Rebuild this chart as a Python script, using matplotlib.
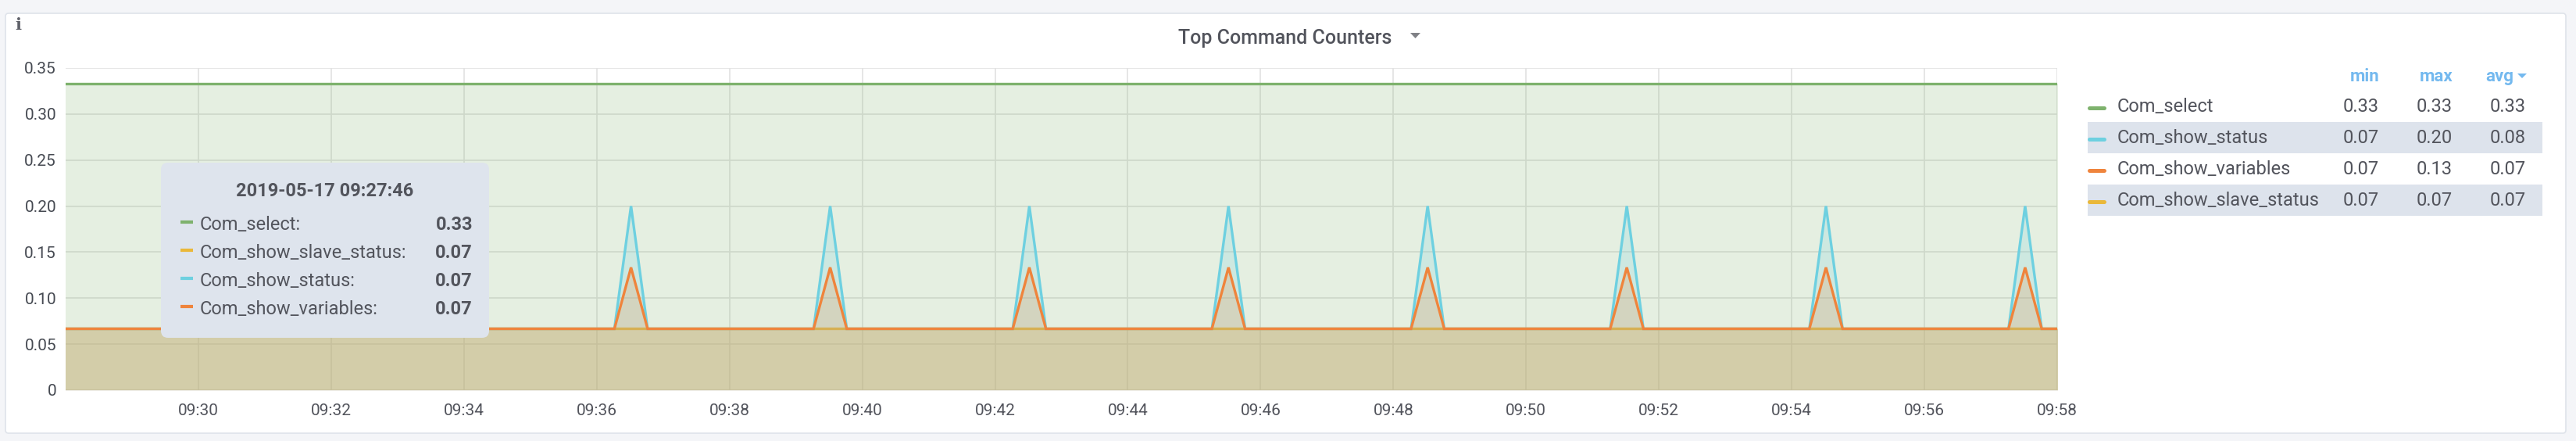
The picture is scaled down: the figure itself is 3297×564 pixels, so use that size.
#!/usr/bin/env python3
"""Grafana-style 'Top Command Counters' panel redrawn with matplotlib."""

import matplotlib
matplotlib.use("Agg")
import matplotlib.dates as mdates
import matplotlib.pyplot as plt
import pandas as pd
from matplotlib.patches import FancyBboxPatch, Polygon, Rectangle

W, H = 3298, 564
DAY = "2019-05-17"

# ---- data ------------------------------------------------------------------
FLAT_TIMES = ["09:27:46", "09:58:01"]
SELECT_VALUES = [0.3333, 0.3333]
SLAVE_STATUS_VALUES = [0.0667, 0.0667]

SPIKE_TIMES = [
    "09:27:46",
    "09:36:16", "09:36:31", "09:36:46",
    "09:39:16", "09:39:31", "09:39:46",
    "09:42:16", "09:42:31", "09:42:46",
    "09:45:16", "09:45:31", "09:45:46",
    "09:48:16", "09:48:31", "09:48:46",
    "09:51:16", "09:51:31", "09:51:46",
    "09:54:16", "09:54:31", "09:54:46",
    "09:57:16", "09:57:31", "09:57:46",
    "09:58:01",
]
SHOW_STATUS_VALUES = [
    0.0667,
    0.0667, 0.2000, 0.0667,
    0.0667, 0.2000, 0.0667,
    0.0667, 0.2000, 0.0667,
    0.0667, 0.2000, 0.0667,
    0.0667, 0.2000, 0.0667,
    0.0667, 0.2000, 0.0667,
    0.0667, 0.2000, 0.0667,
    0.0667, 0.2000, 0.0667,
    0.0667,
]
SHOW_VARIABLES_VALUES = [
    0.0667,
    0.0667, 0.1333, 0.0667,
    0.0667, 0.1333, 0.0667,
    0.0667, 0.1333, 0.0667,
    0.0667, 0.1333, 0.0667,
    0.0667, 0.1333, 0.0667,
    0.0667, 0.1333, 0.0667,
    0.0667, 0.1333, 0.0667,
    0.0667, 0.1333, 0.0667,
    0.0667,
]

COLORS = {
    "Com_select": "#7eb26d",
    "Com_show_slave_status": "#eab839",
    "Com_show_status": "#6ed0e0",
    "Com_show_variables": "#ef843c",
}

X_START, X_END = "09:28:00", "09:58:00"
X_TICKS = ["09:30", "09:32", "09:34", "09:36", "09:38", "09:40", "09:42", "09:44",
           "09:46", "09:48", "09:50", "09:52", "09:54", "09:56", "09:58"]
Y_TICKS = [0, 0.05, 0.10, 0.15, 0.20, 0.25, 0.30, 0.35]
Y_TICK_LABELS = ["0", "0.05", "0.10", "0.15", "0.20", "0.25", "0.30", "0.35"]

LEGEND_ORDER = ["Com_select", "Com_show_status", "Com_show_variables", "Com_show_slave_status"]
LEGEND_MIN = ["0.33", "0.07", "0.07", "0.07"]
LEGEND_MAX = ["0.33", "0.20", "0.13", "0.07"]
LEGEND_AVG = ["0.33", "0.08", "0.07", "0.07"]

TOOLTIP_TIME = "2019-05-17 09:27:46"
TOOLTIP_ORDER = ["Com_select", "Com_show_slave_status", "Com_show_status", "Com_show_variables"]
TOOLTIP_VALUES = ["0.33", "0.07", "0.07", "0.07"]

TITLE = "Top Command Counters"

TEXT = "#52545c"
HEADER_BLUE = "#74b9ef"
ROW_BG = "#dde3ec"
FILL_ALPHA = 0.2


def ts(hms):
    return pd.Timestamp(f"{DAY} {hms}")


def main():
    plt.rcParams["font.family"] = ["Roboto", "DejaVu Sans"]

    fig = plt.figure(figsize=(W / 100, H / 100), dpi=100, facecolor="#f4f5f8")

    # panel background (pixel coordinates, y down)
    bg = fig.add_axes([0, 0, 1, 1], zorder=0)
    bg.set_xlim(0, W)
    bg.set_ylim(H, 0)
    bg.axis("off")
    bg.add_patch(FancyBboxPatch((7, 17), 3277, 537,
                                boxstyle="round,pad=0,rounding_size=4",
                                facecolor="white", edgecolor="#dfe3ea", linewidth=1.2))

    # ---- graph -------------------------------------------------------------
    ax = fig.add_axes([84 / W, (H - 499) / H, (2633 - 84) / W, (499 - 87) / H], zorder=1)
    ax.set_facecolor("none")
    for s in ax.spines.values():
        s.set_visible(False)

    flat_t = [ts(t) for t in FLAT_TIMES]
    spike_t = [ts(t) for t in SPIKE_TIMES]
    draw = [
        ("Com_select", flat_t, SELECT_VALUES),
        ("Com_show_slave_status", flat_t, SLAVE_STATUS_VALUES),
        ("Com_show_status", spike_t, SHOW_STATUS_VALUES),
        ("Com_show_variables", spike_t, SHOW_VARIABLES_VALUES),
    ]
    z = 2
    for name, t, v in draw:
        c = COLORS[name]
        ax.fill_between(t, v, 0, color=c, alpha=FILL_ALPHA, linewidth=0, zorder=z)
        ax.plot(t, v, color=c, linewidth=2.4, zorder=z + 1, solid_joinstyle="miter")
        z += 2

    ax.set_xlim(ts(X_START), ts(X_END))
    ax.set_ylim(0, 0.35)
    ax.set_xticks([ts(t) for t in X_TICKS])
    ax.xaxis.set_major_formatter(mdates.DateFormatter("%H:%M"))
    ax.set_yticks(Y_TICKS)
    ax.set_yticklabels(Y_TICK_LABELS)
    ax.tick_params(axis="x", length=0, pad=12.5, labelsize=15, labelcolor=TEXT)
    ax.tick_params(axis="y", length=0, pad=8.6, labelsize=15, labelcolor="#464a52")
    ax.grid(True, color="#e2e2e2", linewidth=1.2, zorder=1)
    ax.set_axisbelow(True)

    # ---- overlay: title, legend table, tooltip -----------------------------
    ov = fig.add_axes([0, 0, 1, 1], zorder=3)
    ov.set_xlim(0, W)
    ov.set_ylim(H, 0)
    ov.axis("off")
    ov.set_facecolor("none")

    ov.text(23, 37.5, "i", fontsize=15, fontweight="bold", family="DejaVu Serif",
            color="#5f6169", ha="center", va="baseline")
    ov.text(1645, 56, TITLE, fontsize=18, fontweight="medium", color=TEXT,
            ha="center", va="baseline")
    ov.add_patch(Polygon([(1805, 42), (1818, 42), (1811.5, 49)], closed=True,
                         facecolor="#808186", edgecolor="none"))

    # legend table
    ov.text(3045, 104, "min", fontsize=16, fontweight="bold", color=HEADER_BLUE,
            ha="right", va="baseline")
    ov.text(3140, 104, "max", fontsize=16, fontweight="bold", color=HEADER_BLUE,
            ha="right", va="baseline")
    ov.text(3217, 104, "avg", fontsize=16, fontweight="bold", color=HEADER_BLUE,
            ha="right", va="baseline")
    ov.add_patch(Polygon([(3222, 94), (3234, 94), (3228, 100)], closed=True,
                         facecolor=HEADER_BLUE, edgecolor="none"))
    for i, name in enumerate(LEGEND_ORDER):
        base = 142.7 + 40 * i
        if i % 2 == 1:
            ov.add_patch(Rectangle((2672, base - 27), 582, 40, facecolor=ROW_BG,
                                   edgecolor="none"))
        ov.plot([2674.5, 2693.5], [base - 4.5, base - 4.5], color=COLORS[name],
                linewidth=3.6, solid_capstyle="round")
        ov.text(2710, base, name, fontsize=17, color=TEXT, ha="left", va="baseline")
        ov.text(3045, base, LEGEND_MIN[i], fontsize=17, color=TEXT, ha="right", va="baseline")
        ov.text(3139, base, LEGEND_MAX[i], fontsize=17, color=TEXT, ha="right", va="baseline")
        ov.text(3233, base, LEGEND_AVG[i], fontsize=17, color=TEXT, ha="right", va="baseline")

    # hover tooltip
    ov.add_patch(FancyBboxPatch((206, 208), 420, 224,
                                boxstyle="round,pad=0,rounding_size=9",
                                facecolor="#dee4ed", edgecolor="none"))
    ov.text(416, 250.7, TOOLTIP_TIME, fontsize=17, fontweight="bold", color=TEXT,
            ha="center", va="baseline")
    for i, name in enumerate(TOOLTIP_ORDER):
        base = 294 + 35.9 * i
        ov.plot([231.5, 247.5], [base - 9.7, base - 9.7], color=COLORS[name],
                linewidth=3.0, solid_capstyle="butt")
        ov.text(256, base, name + ":", fontsize=17, color=TEXT, ha="left", va="baseline")
        ov.text(605, base, TOOLTIP_VALUES[i], fontsize=17, fontweight="bold", color=TEXT,
                ha="right", va="baseline")

    fig.savefig("out.png", dpi=100, facecolor=fig.get_facecolor())
    plt.close(fig)


if __name__ == "__main__":
    main()
